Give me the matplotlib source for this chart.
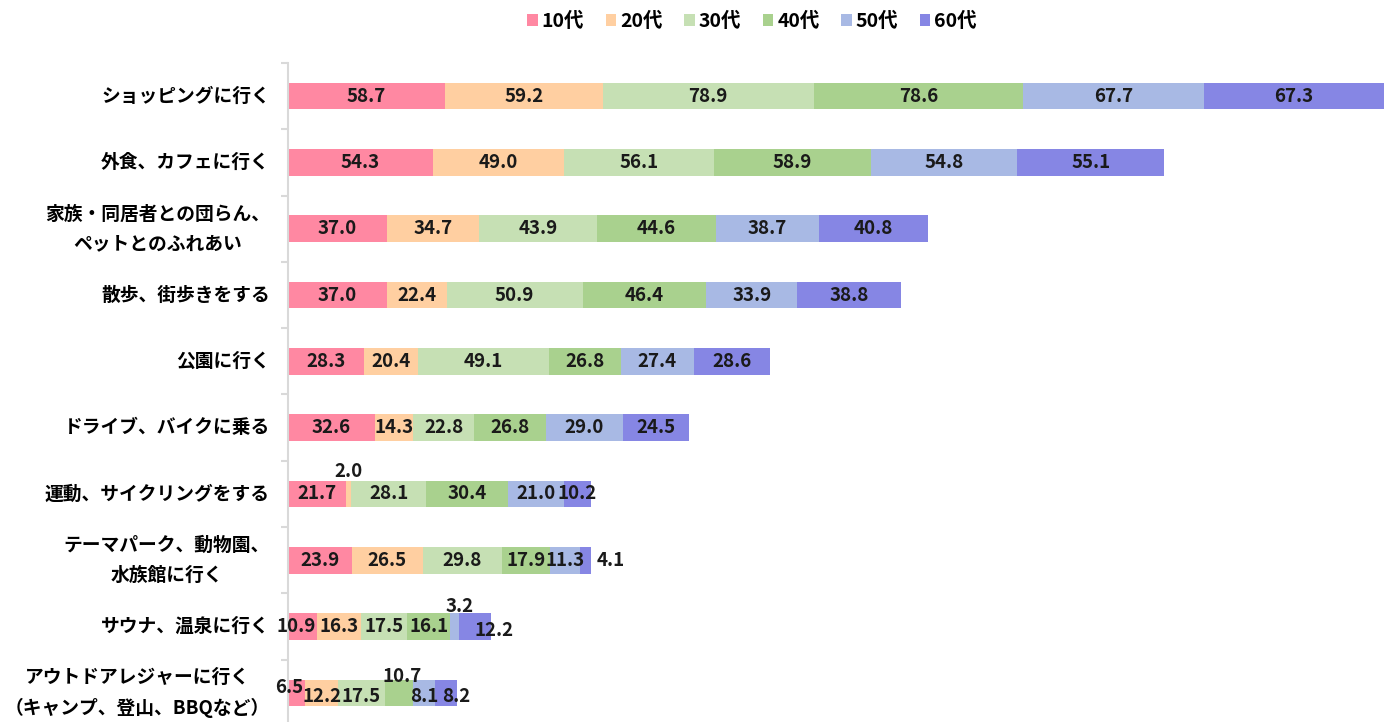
import matplotlib.pyplot as plt
import numpy as np

plt.rcParams['font.family'] = ['Noto Sans CJK JP', 'DejaVu Sans']

# activity categories (top to bottom)
activities = [
    'ショッピングに行く',
    '外食、カフェに行く',
    '家族・同居者との団らん、\nペットとのふれあい',
    '散歩、街歩きをする',
    '公園に行く',
    'ドライブ、バイクに乗る',
    '運動、サイクリングをする',
    'テーマパーク、動物園、\n水族館に行く',
    'サウナ、温泉に行く',
    'アウトドアレジャーに行く\n（キャンプ、登山、BBQなど）',
]

age_groups = ['10代', '20代', '30代', '40代', '50代', '60代']

teens = [58.7, 54.3, 37.0, 37.0, 28.3, 32.6, 21.7, 23.9, 10.9, 6.5]
twenties = [59.2, 49.0, 34.7, 22.4, 20.4, 14.3, 2.0, 26.5, 16.3, 12.2]
thirties = [78.9, 56.1, 43.9, 50.9, 49.1, 22.8, 28.1, 29.8, 17.5, 17.5]
forties = [78.6, 58.9, 44.6, 46.4, 26.8, 26.8, 30.4, 17.9, 16.1, 10.7]
fifties = [67.7, 54.8, 38.7, 33.9, 27.4, 29.0, 21.0, 11.3, 3.2, 8.1]
sixties = [67.3, 55.1, 40.8, 38.8, 28.6, 24.5, 10.2, 4.1, 12.2, 8.2]

colors = ['#FF88A2', '#FFCFA1', '#C6E0B4', '#A9D18E', '#A8B9E4', '#8686E4']

# hand-placed labels for the thin segments: (row, series) -> pixel offset
label_nudge = {
    (6, 1): (0, 22),
    (7, 5): (25, 0),
    (8, 0): (-6, 0),
    (8, 4): (5, 20),
    (8, 5): (19, -4),
    (9, 0): (-7, 5),
    (9, 1): (0, -4),
    (9, 2): (0, -4),
    (9, 3): (3, 16),
    (9, 4): (0, -4),
    (9, 5): (10, -4),
}

series = [teens, twenties, thirties, forties, fifties, sixties]
data = np.array(series)
totals = data.sum(axis=0)

fig = plt.figure(figsize=(13.92, 7.22), dpi=100)
ax = fig.add_axes([288 / 1392, -4 / 722, 1096 / 1392, 663 / 722])

y = np.arange(len(activities))
left = np.zeros(len(activities))
for i, (name, vals) in enumerate(zip(age_groups, series)):
    vals = np.array(vals)
    ax.barh(y, vals, left=left, height=0.4, color=colors[i], label=name)
    for r, v in enumerate(vals):
        dx, dy = label_nudge.get((r, i), (0, 0))
        ax.annotate(f'{v:.1f}', (left[r] + v / 2, r), xytext=(dx, dy),
                    textcoords='offset pixels', ha='center', va='center',
                    fontsize=13.5, fontweight='bold', color='#1a1a1a')
    left += vals

ax.set_xlim(0, totals.max())
ax.set_ylim(len(activities) - 0.5, -0.5)

ax.set_xticks([])
ax.set_yticks(y)
ax.set_yticklabels(activities, fontsize=13.5, fontweight='bold',
                   multialignment='center', linespacing=1.7, va='center')
ax.tick_params(axis='y', which='major', length=0, pad=13)
ax.set_yticks(np.arange(len(activities)) - 0.5, minor=True)
ax.tick_params(axis='y', which='minor', length=5, width=1.5, color='#D9D9D9')

for side in ['top', 'right', 'bottom']:
    ax.spines[side].set_visible(False)
ax.spines['left'].set_color('#D9D9D9')
ax.spines['left'].set_linewidth(1.5)

fig.legend(loc='upper center', bbox_to_anchor=(752 / 1392, 1.008), ncol=6,
           frameon=False, prop={'size': 14, 'weight': 'bold'},
           handlelength=0.55, handleheight=0.55, handletextpad=0.2,
           columnspacing=1.1)

fig.savefig('out.png', dpi=100)
